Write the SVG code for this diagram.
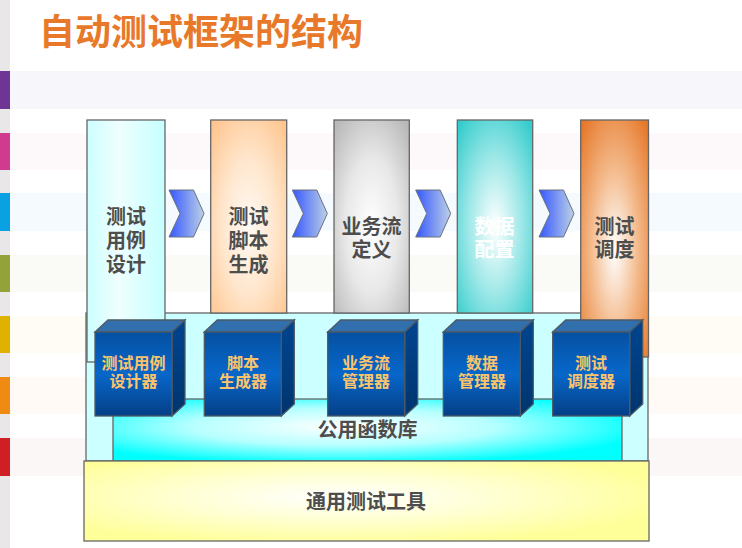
<svg xmlns="http://www.w3.org/2000/svg" width="742" height="548" viewBox="0 0 742 548">
<defs>
<style>
.t{font-family:"Liberation Sans","Noto Sans CJK SC",sans-serif;font-weight:bold;text-anchor:middle}
.ct{font-size:20px;fill:#4d4d4d}
.bt{font-size:16px;fill:#fbc46c}
.edge{stroke:#666;stroke-width:1.3}
.bx{stroke:#4d5a66;stroke-width:1.3}
</style>
<radialGradient id="gPeach" cx="50%" cy="55%" r="70%"><stop offset="0" stop-color="#fffaf5"/><stop offset="0.5" stop-color="#ffe6cc"/><stop offset="1" stop-color="#ffc58f"/></radialGradient>
<radialGradient id="gGray" cx="50%" cy="55%" r="70%"><stop offset="0" stop-color="#ffffff"/><stop offset="0.5" stop-color="#e8e8e8"/><stop offset="1" stop-color="#b8b8b8"/></radialGradient>
<radialGradient id="gTeal" cx="50%" cy="55%" r="70%"><stop offset="0" stop-color="#ffffff"/><stop offset="0.5" stop-color="#9fe8e8"/><stop offset="1" stop-color="#35cccc"/></radialGradient>
<radialGradient id="gOrange" cx="50%" cy="55%" r="70%"><stop offset="0" stop-color="#ffffff"/><stop offset="0.5" stop-color="#f3b98a"/><stop offset="1" stop-color="#e6782a"/></radialGradient>
<linearGradient id="gCyanCol" x1="0" y1="0" x2="1" y2="0"><stop offset="0" stop-color="#ccffff"/><stop offset="0.4" stop-color="#effefe"/><stop offset="1" stop-color="#c6ffff"/></linearGradient>
<radialGradient id="gLib" cx="45%" cy="45%" r="60%"><stop offset="0" stop-color="#ffffff"/><stop offset="0.5" stop-color="#b5ffff"/><stop offset="1" stop-color="#00ffff"/></radialGradient>
<radialGradient id="gTool" cx="45%" cy="45%" r="60%"><stop offset="0" stop-color="#ffffff"/><stop offset="0.5" stop-color="#ffffd0"/><stop offset="1" stop-color="#ffff99"/></radialGradient>
<linearGradient id="gFront" x1="0" y1="0" x2="0" y2="1"><stop offset="0" stop-color="#0550a2"/><stop offset="0.5" stop-color="#0767c9"/><stop offset="1" stop-color="#043f86"/></linearGradient>
<linearGradient id="gSide" x1="0" y1="0" x2="0" y2="1"><stop offset="0" stop-color="#004590"/><stop offset="1" stop-color="#00356e"/></linearGradient>
<linearGradient id="gChev" x1="0" y1="0" x2="1" y2="0"><stop offset="0" stop-color="#3557ff"/><stop offset="1" stop-color="#bcd0e6"/></linearGradient>
</defs>

<g id="background">
<rect x="0" y="0" width="742" height="548" fill="#ffffff"/>
<rect x="0" y="0" width="10" height="548" fill="#e9e7e7"/>
<rect x="10" y="71" width="732" height="38" fill="#f7f6fa"/>
<rect x="10" y="133" width="732" height="37" fill="#fdf8fa"/>
<rect x="10" y="193" width="732" height="38" fill="#f5fafe"/>
<rect x="10" y="255" width="732" height="37" fill="#fafaf6"/>
<rect x="10" y="316" width="732" height="37" fill="#fffcf6"/>
<rect x="10" y="377" width="732" height="37" fill="#fffaf6"/>
<rect x="10" y="438" width="732" height="38" fill="#fbf7f7"/>
<rect x="0" y="71" width="10" height="38" fill="#6f3594"/>
<rect x="0" y="133" width="10" height="37" fill="#d13b8f"/>
<rect x="0" y="193" width="10" height="38" fill="#0aa1e2"/>
<rect x="0" y="255" width="10" height="37" fill="#93a33a"/>
<rect x="0" y="316" width="10" height="37" fill="#dfb100"/>
<rect x="0" y="377" width="10" height="37" fill="#ef8a13"/>
<rect x="0" y="438" width="10" height="38" fill="#cf1f25"/>
</g>

<text id="title" class="t" x="201" y="45" style="font-size:36px;fill:#e8792a">自动测试框架的结构</text>

<g id="framework-panel">
<rect x="86" y="313" width="562" height="148" fill="#ccffff" class="edge"/>
</g>

<g id="col-case-design">
<rect x="87" y="120" width="78" height="242" fill="url(#gCyanCol)" class="edge"/>
<text class="t ct" x="126" y="224">测试</text>
<text class="t ct" x="126" y="248">用例</text>
<text class="t ct" x="126" y="272">设计</text>
</g>
<g id="col-script-gen">
<rect x="210.7" y="120" width="76" height="193" fill="url(#gPeach)" class="edge"/>
<text class="t ct" x="248.5" y="224">测试</text>
<text class="t ct" x="248.5" y="248">脚本</text>
<text class="t ct" x="248.5" y="272">生成</text>
</g>
<g id="col-flow-def">
<rect x="334" y="120" width="75.3" height="193" fill="url(#gGray)" class="edge"/>
<text class="t ct" x="371.5" y="234">业务流</text>
<text class="t ct" x="371.5" y="257">定义</text>
</g>
<g id="col-data-config">
<rect x="457.3" y="120" width="75.4" height="193" fill="url(#gTeal)" class="edge"/>
<text class="t ct" x="494.5" y="234" style="fill:#ffffff">数据</text>
<text class="t ct" x="494.5" y="257" style="fill:#ffffff">配置</text>
</g>
<g id="col-scheduling">
<rect x="580.7" y="120" width="67.8" height="237" fill="url(#gOrange)" class="edge"/>
<text class="t ct" x="614.5" y="234">测试</text>
<text class="t ct" x="614.5" y="257">调度</text>
</g>

<g id="common-lib">
<rect x="113" y="399" width="509" height="62" fill="url(#gLib)" class="edge"/>
<text class="t ct" x="367.5" y="437">公用函数库</text>
</g>

<g id="common-tools">
<rect x="84" y="461" width="565" height="80" fill="url(#gTool)" class="edge"/>
<text class="t ct" x="366" y="509">通用测试工具</text>
</g>

<g id="box-case-designer">
<polygon points="95,332 108,320 185,320 172,332" fill="#3270ad" class="bx"/>
<polygon points="172,332 185,320 185,404 172,416" fill="url(#gSide)" class="bx"/>
<rect x="95" y="332" width="77" height="84" fill="url(#gFront)" class="bx"/>
<text class="t bt" x="133.5" y="369">测试用例</text>
<text class="t bt" x="133.5" y="387">设计器</text>
</g>
<g id="box-script-generator">
<polygon points="204.3,332 217.3,320 294.3,320 281.3,332" fill="#3270ad" class="bx"/>
<polygon points="281.3,332 294.3,320 294.3,404 281.3,416" fill="url(#gSide)" class="bx"/>
<rect x="204.3" y="332" width="77" height="84" fill="url(#gFront)" class="bx"/>
<text class="t bt" x="243" y="369">脚本</text>
<text class="t bt" x="243" y="387">生成器</text>
</g>
<g id="box-flow-manager">
<polygon points="327.7,332 340.7,320 417.7,320 404.7,332" fill="#3270ad" class="bx"/>
<polygon points="404.7,332 417.7,320 417.7,404 404.7,416" fill="url(#gSide)" class="bx"/>
<rect x="327.7" y="332" width="77" height="84" fill="url(#gFront)" class="bx"/>
<text class="t bt" x="366" y="369">业务流</text>
<text class="t bt" x="366" y="387">管理器</text>
</g>
<g id="box-data-manager">
<polygon points="443.3,332 456.3,320 533.3,320 520.3,332" fill="#3270ad" class="bx"/>
<polygon points="520.3,332 533.3,320 533.3,404 520.3,416" fill="url(#gSide)" class="bx"/>
<rect x="443.3" y="332" width="77" height="84" fill="url(#gFront)" class="bx"/>
<text class="t bt" x="482" y="369">数据</text>
<text class="t bt" x="482" y="387">管理器</text>
</g>
<g id="box-scheduler">
<polygon points="552.7,332 565.7,320 642.7,320 629.7,332" fill="#3270ad" class="bx"/>
<polygon points="629.7,332 642.7,320 642.7,404 629.7,416" fill="url(#gSide)" class="bx"/>
<rect x="552.7" y="332" width="77" height="84" fill="url(#gFront)" class="bx"/>
<text class="t bt" x="591" y="369">测试</text>
<text class="t bt" x="591" y="387">调度器</text>
</g>

<g id="connectors" fill="url(#gChev)" stroke="#6b7280" stroke-width="1">
<polygon points="169,190 193.5,190 204,213.5 193.5,237 169,237 180,213.5"/>
<polygon points="292.3,190 316.8,190 327.3,213.5 316.8,237 292.3,237 303.3,213.5"/>
<polygon points="415.7,190 440.2,190 450.7,213.5 440.2,237 415.7,237 426.7,213.5"/>
<polygon points="539,190 563.5,190 574,213.5 563.5,237 539,237 550,213.5"/>
</g>
</svg>
